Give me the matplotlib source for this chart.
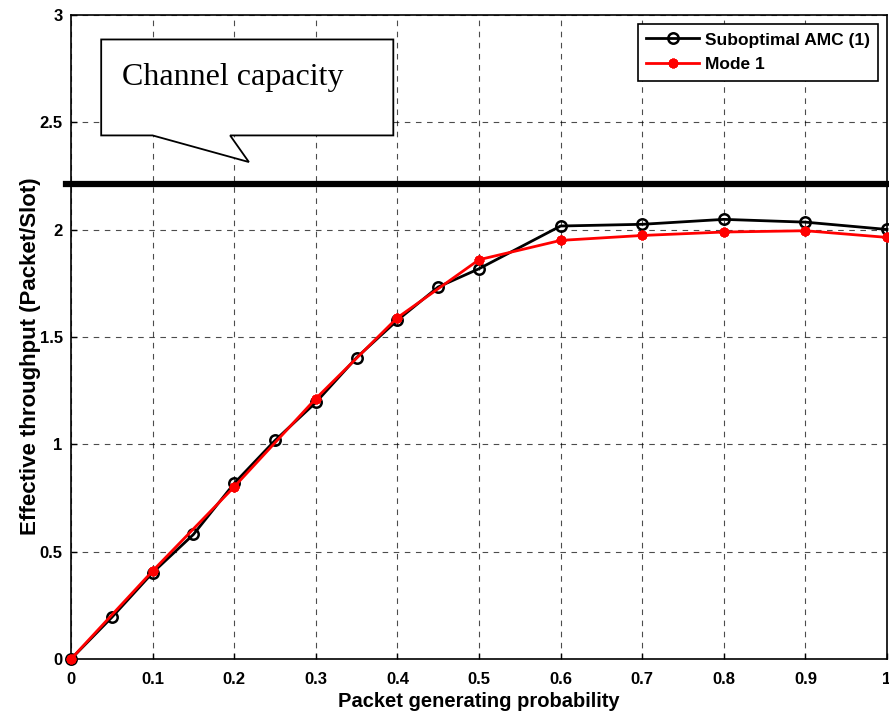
import numpy as np
import matplotlib
matplotlib.use("Agg")
import matplotlib.pyplot as plt
from matplotlib.patches import Polygon

# data
p_black = [0, 0.05, 0.1, 0.15, 0.2, 0.25, 0.3, 0.35, 0.4, 0.45, 0.5, 0.6, 0.7, 0.8, 0.9, 1.0]
thr_black = [0, 0.194, 0.402, 0.580, 0.818, 1.018, 1.195, 1.404, 1.578, 1.733, 1.818,
             2.017, 2.025, 2.048, 2.035, 2.001]
p_red = [0, 0.1, 0.2, 0.3, 0.4, 0.5, 0.6, 0.7, 0.8, 0.9, 1.0]
thr_red = [0, 0.41, 0.802, 1.213, 1.590, 1.860, 1.950, 1.973, 1.989, 1.995, 1.964]
capacity = 2.214

xticks = [0, 0.1, 0.2, 0.3, 0.4, 0.5, 0.6, 0.7, 0.8, 0.9, 1]
xticklabels = ['0', '0.1', '0.2', '0.3', '0.4', '0.5', '0.6', '0.7', '0.8', '0.9', '1']
yticks = [0, 0.5, 1, 1.5, 2, 2.5, 3]
yticklabels = ['0', '0.5', '1', '1.5', '2', '2.5', '3']

plt.rcParams['font.family'] = ['Liberation Sans', 'DejaVu Sans']
plt.rcParams['font.weight'] = 'bold'

fig = plt.figure(figsize=(8.89, 7.17), dpi=100)
ax = fig.add_axes([71 / 889, 58 / 717, 816 / 889, 644 / 717])

ax.plot([-0.006, 1.0], [capacity, capacity], color='black', lw=4.5, clip_on=False, zorder=3)

ax.plot(p_black, thr_black, '-o', color='black', lw=2, ms=7.5, mfc='none', mew=1.8,
        label='Suboptimal AMC (1)', zorder=4, clip_on=False)
ax.plot(p_red, thr_red, '-', marker=(8, 2, 0), color='red', lw=2, ms=7, mew=2.2,
        label='Mode 1', zorder=5, clip_on=False)

# callout box with pointer
callout = Polygon([(0.037, 2.886), (0.395, 2.886), (0.395, 2.439), (0.195, 2.439),
                   (0.218, 2.315), (0.100, 2.439), (0.037, 2.439)],
                  closed=True, facecolor='white', edgecolor='black', lw=1.3, zorder=6)
ax.add_patch(callout)
ax.text(0.062, 2.672, 'Channel capacity', family='Liberation Serif', weight='normal',
        fontsize=23, zorder=7)

ax.set_xlim(0, 1)
ax.set_ylim(0, 3)
ax.set_xticks(xticks)
ax.set_xticklabels(xticklabels)
ax.set_yticks(yticks)
ax.set_yticklabels(yticklabels)
ax.tick_params(labelsize=12, direction='in', length=4, width=1)
ax.tick_params(axis='x', pad=9)
ax.tick_params(axis='y', pad=6)
ax.grid(True, color='black', linestyle=(0, (5, 5)), lw=0.8, alpha=0.7)
for s in ax.spines.values():
    s.set_linewidth(1.2)

ax.set_xlabel('Packet generating probability', fontsize=14.5, fontweight='bold', labelpad=4)
ax.set_ylabel('Effective throughput (Packet/Slot)', fontsize=16, fontweight='bold')
ax.yaxis.set_label_coords(-0.037, 0.47)

leg = ax.legend(loc='upper right', fontsize=12.5, frameon=True, fancybox=False,
                edgecolor='black', framealpha=1, borderaxespad=0.5, handlelength=3,
                handletextpad=0.35, borderpad=0.5, labelspacing=0.55)
leg.get_frame().set_linewidth(1.2)
leg.set_zorder(8)

fig.savefig('out.png', dpi=100)
